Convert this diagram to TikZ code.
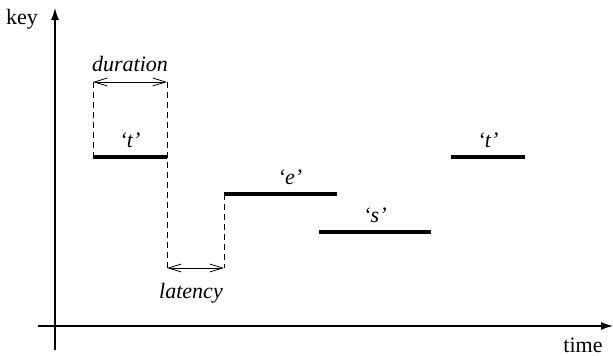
\documentclass[tikz,border=0pt]{standalone}
\usepackage{fontspec}
\setmainfont{Liberation Serif}
\usetikzlibrary{arrows.meta}
\begin{document}
\begin{tikzpicture}[x=1pt,y=-1pt,
  txt/.style={font=\fontsize{22}{26}\selectfont, inner sep=0pt},
  lab/.style={txt, font=\fontsize{22}{26}\selectfont\itshape},
  axis/.style={line width=1.2pt, -{Latex[length=12pt,width=8pt]}},
  bar/.style={line width=3.8pt},
  guide/.style={line width=0.8pt, dash pattern=on 6pt off 4pt},
  dim/.style={line width=0.8pt, {Straight Barb[length=13pt,width=8pt]}-{Straight Barb[length=13pt,width=8pt]}}]
\useasboundingbox (0,0) rectangle (613,356);
% axes
\coordinate (yb) at (55,350);
\coordinate (yt) at (55,8);
\coordinate (xl) at (38,326);
\coordinate (xr) at (613,326);
\draw[axis] (yb) -- (yt);
\draw[axis] (xl) -- (xr);
\node[txt] (key) at (22,19) {key};
\node[txt] (time) at (583,345) {time};
% bars
\coordinate (t1a) at (93,157); \coordinate (t1b) at (167,157);
\coordinate (ea) at (224,194); \coordinate (eb) at (337,194);
\coordinate (sa) at (319,232); \coordinate (sb) at (431,232);
\coordinate (t2a) at (451,157); \coordinate (t2b) at (525,157);
\draw[bar] (t1a) -- (t1b);
\draw[bar] (ea) -- (eb);
\draw[bar] (sa) -- (sb);
\draw[bar] (t2a) -- (t2b);
\node[lab] (lt1) at (130,140) {‘t’};
\node[lab] (le) at (290,177) {‘e’};
\node[lab] (ls) at (375,215) {‘s’};
\node[lab] (lt2) at (488,140) {‘t’};
% guides
\coordinate (da) at (93,82); \coordinate (db) at (167,82);
\coordinate (la) at (167,268); \coordinate (lb) at (224,268);
\draw[guide] (da) -- (t1a);
\draw[guide] (db) -- (la);
\draw[guide] (ea) -- (lb);
\draw[dim] (da) -- (db);
\draw[dim] (la) -- (lb);
\node[lab] (dur) at (130,64) {duration};
\node[lab] (lat) at (191,293) {latency};
\end{tikzpicture}
\end{document}
